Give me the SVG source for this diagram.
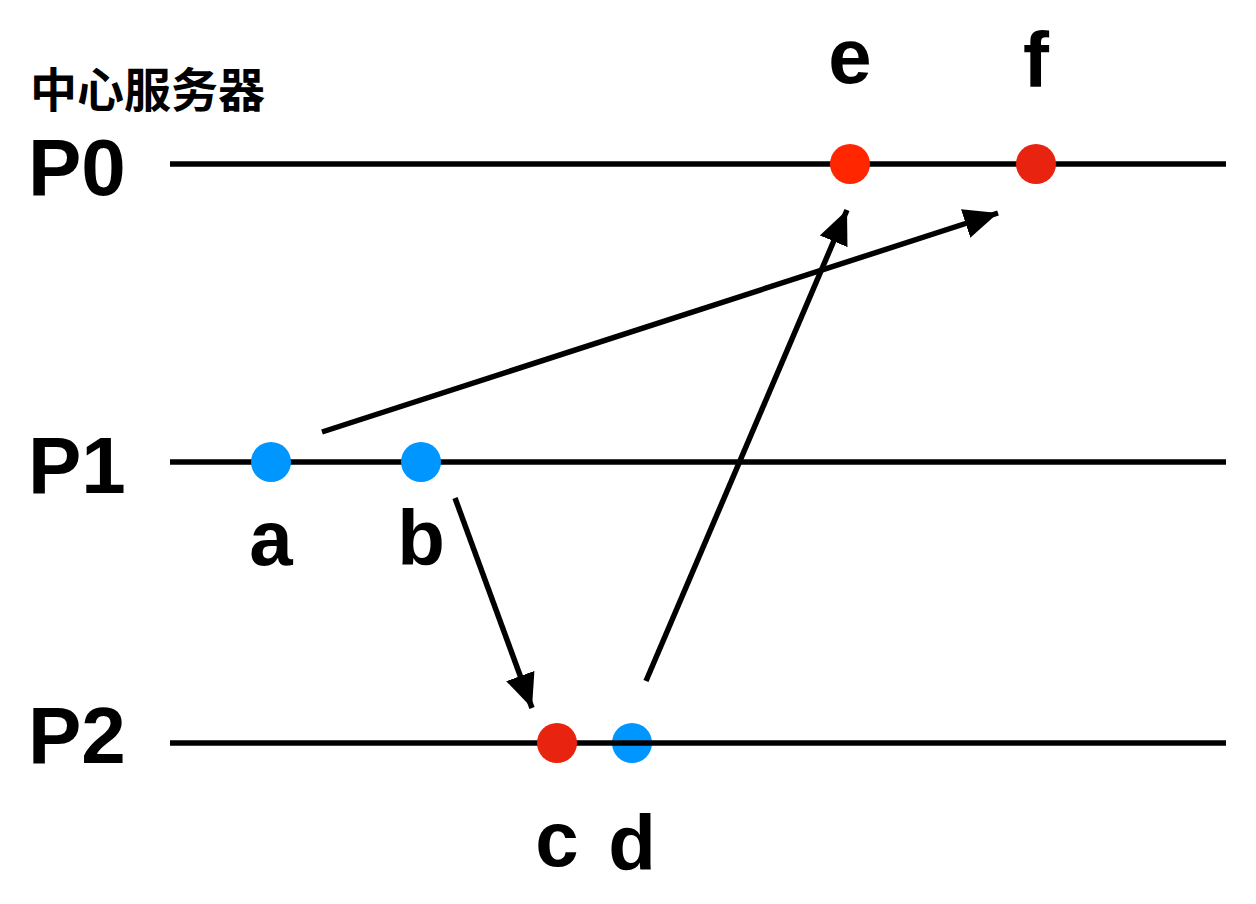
<svg xmlns="http://www.w3.org/2000/svg" width="1256" height="904" viewBox="0 0 1256 904">
<defs>
<style>
.lbl{font-family:"Liberation Sans",Arial,sans-serif;font-weight:bold;font-size:80px;fill:#000}
.ev{font-family:"Liberation Sans",Arial,sans-serif;font-weight:bold;font-size:78px;fill:#000;text-anchor:middle}
.tl{stroke:#000;stroke-width:5.5;fill:none}
.conn{stroke:#000;stroke-width:5.5;fill:none;marker-end:url(#ah)}
.blue{fill:#0096FF}
.red{fill:#E8230F}
.red2{fill:#FF2600}
</style>
<marker id="ah" markerUnits="userSpaceOnUse" markerWidth="36" markerHeight="32" refX="34" refY="15" orient="auto" viewBox="0 0 36 30">
<path d="M0,0 L34,15 L0,30 Z" fill="#000"/>
</marker>
</defs>
<rect width="1256" height="904" fill="#fff"/>
<g id="title"><text x="30" y="107" style="font-family:'Noto Sans CJK SC',sans-serif;font-weight:bold;font-size:47px">中心服务器</text></g>
<g id="P2">
<circle class="blue" cx="632" cy="743" r="20"/>
<line class="tl" x1="170" y1="743" x2="1226" y2="743"/>
<text class="lbl" x="28" y="763">P2</text>
</g>
<g id="P0">
<line class="tl" x1="170" y1="164" x2="1226" y2="164"/>
<text class="lbl" x="28" y="195">P0</text>
</g>
<g id="P1">
<line class="tl" x1="170" y1="462" x2="1226" y2="462"/>
<text class="lbl" x="28" y="493">P1</text>
</g>
<g id="e"><circle class="red2" cx="850" cy="164" r="20"/><text class="ev" x="850" y="83">e</text></g>
<g id="f"><circle class="red" cx="1036" cy="164" r="20"/><text class="ev" x="1036" y="87">f</text></g>
<g id="a"><circle class="blue" cx="271" cy="462" r="20"/><text class="ev" x="271" y="565">a</text></g>
<g id="b"><circle class="blue" cx="421" cy="462" r="20"/><text class="ev" x="421" y="565">b</text></g>
<g id="c"><circle class="red" cx="557" cy="743" r="20"/><text class="ev" x="557" y="866">c</text></g>
<g id="d"><text class="ev" x="632" y="870">d</text></g>
<g id="connectors">
<line class="conn" x1="322" y1="432" x2="998" y2="213"/>
<line class="conn" x1="455" y1="498" x2="532" y2="708"/>
<line class="conn" x1="646" y1="681" x2="847" y2="210"/>
</g>
</svg>
